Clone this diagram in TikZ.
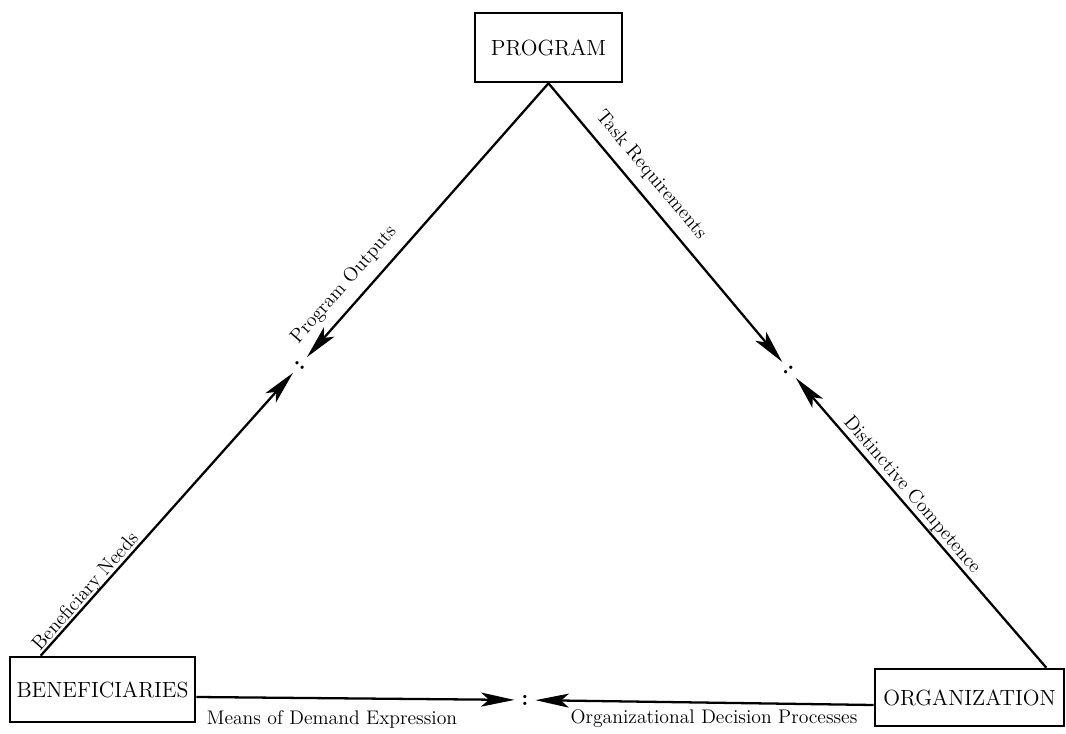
\documentclass[tikz,border=0pt]{standalone}
\usepackage{tikz}
\usetikzlibrary{calc,arrows.meta,positioning}
\tikzset{
  unitbox/.style={draw,line width=1.5pt,inner sep=0pt,font=\fontsize{12.5}{14}\selectfont},
  arr/.style={-{Stealth[length=19pt,width=8pt,inset=4.5pt]},line width=1.3pt,shorten >=6pt},
  lbl/.style={font=\fontsize{11.2}{13}\selectfont,inner sep=0pt},
  colon/.style={font=\fontsize{13}{15}\selectfont\bfseries,inner sep=0pt},
}
\begin{document}
\begin{tikzpicture}[x=0.02cm,y=-0.02cm]
    \useasboundingbox (0,0) rectangle (1066,734);
    % boxes
    \node[unitbox,minimum width=2.94cm,minimum height=1.38cm] (program) at (548.5,47.5) {PROGRAM};
    \node[unitbox,minimum width=3.7cm,minimum height=1.3cm] (benef) at (102.5,689.5) {BENEFICIARIES};
    \node[unitbox,minimum width=3.78cm,minimum height=1.14cm] (org) at (969.5,697.5) {ORGANIZATION};
    % meeting points
    \coordinate (mleft) at (300,365);
    \coordinate (mright) at (789,370);
    \coordinate (mbottom) at (525,700);
    \node[colon,rotate=48.6] at (mleft) {:};
    \node[colon,rotate=-50] at (mright) {:};
    \node[colon] at (mbottom) {:};
    % left side
    \draw[arr] ([xshift=0.64cm]benef.north west) -- (mleft);
    \draw[arr] (program.south) -- (mleft);
    % right side
    \draw[arr] (program.south) -- (mright);
    \draw[arr] ([xshift=-0.38cm]org.north east) -- (mright);
    % bottom
    \draw[arr] ([yshift=-0.15cm]benef.east) -- (mbottom);
    \draw[arr] ([yshift=-0.15cm]org.west) -- (mbottom);
    % labels
    \node[lbl,rotate=48.6] at (86,592) {Beneficiary Needs};
    \node[lbl,rotate=48.6] at (344,285) {Program Outputs};
    \node[lbl,rotate=-50] at (651,175) {Task Requirements};
    \node[lbl,rotate=-49.5] at (912,495) {Distinctive Competence};
    \node[lbl] at (332,719) {Means of Demand Expression};
    \node[lbl] at (714,719) {Organizational Decision Processes};
\end{tikzpicture}
\end{document}
